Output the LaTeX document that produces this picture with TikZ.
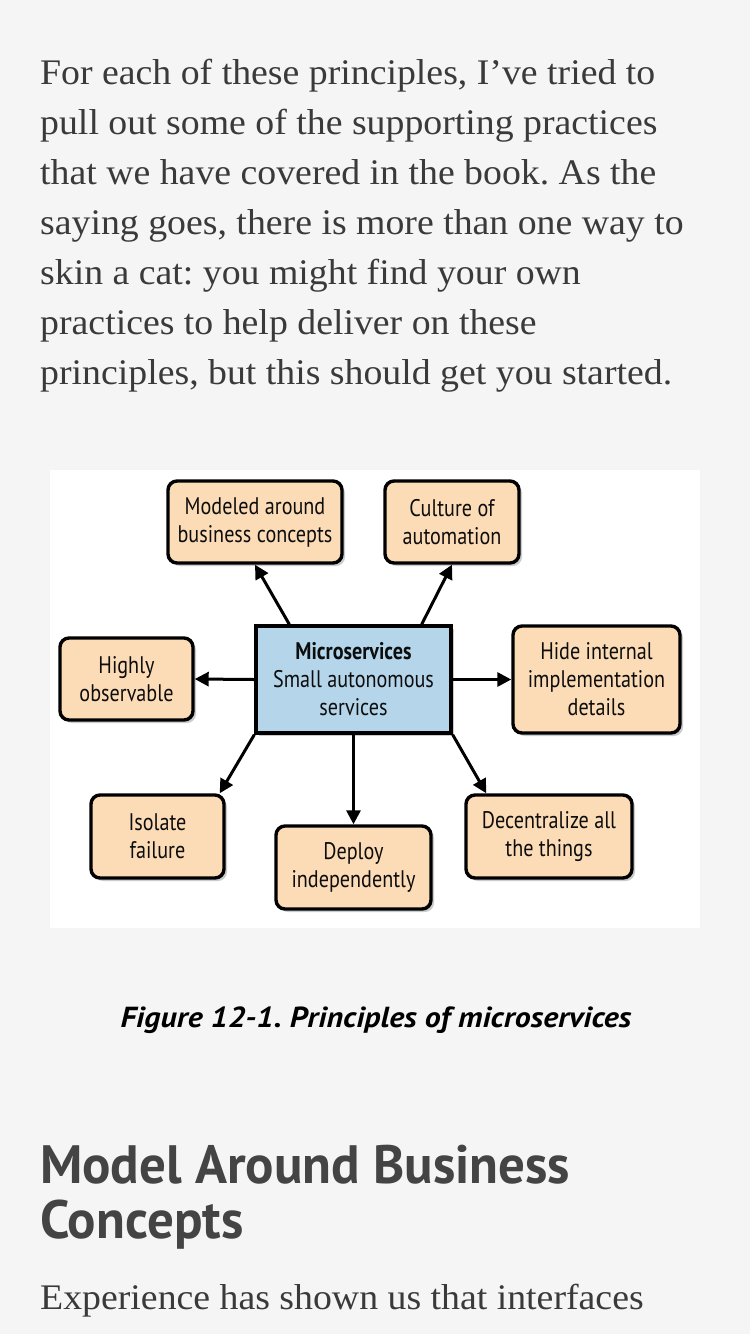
\documentclass[tikz,border=0pt]{standalone}
\usepackage{fontspec}
\setmainfont[FakeStretch=1.05]{Liberation Serif}
\newfontfamily\figfont[FakeStretch=0.84]{PT Sans}
\newfontfamily\capfont[FakeStretch=1.1]{PT Sans}
\newfontfamily\headfont[FakeStretch=0.98]{PT Sans}
\usetikzlibrary{arrows.meta,shadows}
\definecolor{pagebg}{HTML}{F5F5F5}
\definecolor{inktext}{HTML}{3A3A3A}
\definecolor{headink}{HTML}{444444}
\definecolor{peach}{HTML}{FCDCB6}
\definecolor{skyblue}{HTML}{B4D5EA}
\frenchspacing
\begin{document}
\begin{tikzpicture}[x=1pt, y=-1pt,
    principle/.style={rectangle, rounded corners=9pt, draw=black, line width=3.4pt,
      fill=peach, align=center, inner sep=0pt, text=black!95,
      font=\figfont\fontsize{24}{28}\selectfont,
      drop shadow={shadow xshift=3pt, shadow yshift=-3pt, opacity=0.4}},
    core/.style={principle, rounded corners=0pt, fill=skyblue},
    arr/.style={-{Triangle[length=14pt,width=14pt]}, line width=3pt},
    bodytext/.style={anchor=base west, inner sep=0pt, text=inktext,
      font=\fontsize{36}{50}\selectfont}]
    \useasboundingbox (0,0) rectangle (750,1334);
    \fill[pagebg] (0,0) rectangle (750,1334);

    % Labels
    \node[bodytext] (para1) at (40,84) {For each of these principles, I’ve tried to};
    \node[bodytext] (para2) at (40,134) {pull out some of the supporting practices};
    \node[bodytext] (para3) at (40,184) {that we have covered in the book. As the};
    \node[bodytext] (para4) at (40,234) {saying goes, there is more than one way to};
    \node[bodytext] (para5) at (40,284) {skin a cat: you might find your own};
    \node[bodytext] (para6) at (40,334) {practices to help deliver on these};
    \node[bodytext] (para7) at (40,384) {principles, but this should get you started.};

    \fill[white] (50,470) rectangle (700,928);

    % Nodes
    \node[core, minimum width=195pt, minimum height=107pt] (ms) at (353.5,679.5)
      {{\bfseries Microservices}\\Small autonomous\\services};
    \node[principle, minimum width=174pt, minimum height=82pt] (model) at (255,522)
      {Modeled around\\business concepts};
    \node[principle, minimum width=134pt, minimum height=82pt] (culture) at (452,522)
      {Culture of\\automation};
    \node[principle, minimum width=133pt, minimum height=82pt] (observe) at (126.5,679)
      {Highly\\observable};
    \node[principle, minimum width=167pt, minimum height=107pt] (hide) at (596.5,679.5)
      {Hide internal\\implementation\\details};
    \node[principle, minimum width=133pt, minimum height=83pt] (isolate) at (157.5,836.5)
      {Isolate\\failure};
    \node[principle, minimum width=155pt, minimum height=83pt] (deploy) at (353.5,867.5)
      {Deploy\\independently};
    \node[principle, minimum width=166pt, minimum height=83pt] (decentral) at (549,836.5)
      {Decentralize all\\the things};

    % Edges
    \draw[arr] ([xshift=35pt]ms.north west) -- (model.south);
    \draw[arr] ([xshift=-31pt]ms.north east) -- (culture.south);
    \draw[arr] (ms.west) -- (observe.east);
    \draw[arr] (ms.east) -- (hide.west);
    \draw[arr] (ms.south west) -- ([xshift=-6pt]isolate.north east);
    \draw[arr] (ms.south) -- (deploy.north);
    \draw[arr] (ms.south east) -- ([xshift=22pt]decentral.north west);

    % Caption and heading
    \node[anchor=base, inner sep=0pt, text=black,
      font=\capfont\bfseries\itshape\fontsize{29}{34}\selectfont] (caption)
      at (376,1027) {Figure 12-1. Principles of microservices};
    \node[anchor=base west, inner sep=0pt, text=headink,
      font=\headfont\bfseries\fontsize{54}{57}\selectfont] (head1) at (40,1183) {Model Around Business};
    \node[anchor=base west, inner sep=0pt, text=headink,
      font=\headfont\bfseries\fontsize{54}{57}\selectfont] (head2) at (40,1238) {Concepts};
    \node[bodytext] (para8) at (40,1309) {Experience has shown us that interfaces};
\end{tikzpicture}
\end{document}
